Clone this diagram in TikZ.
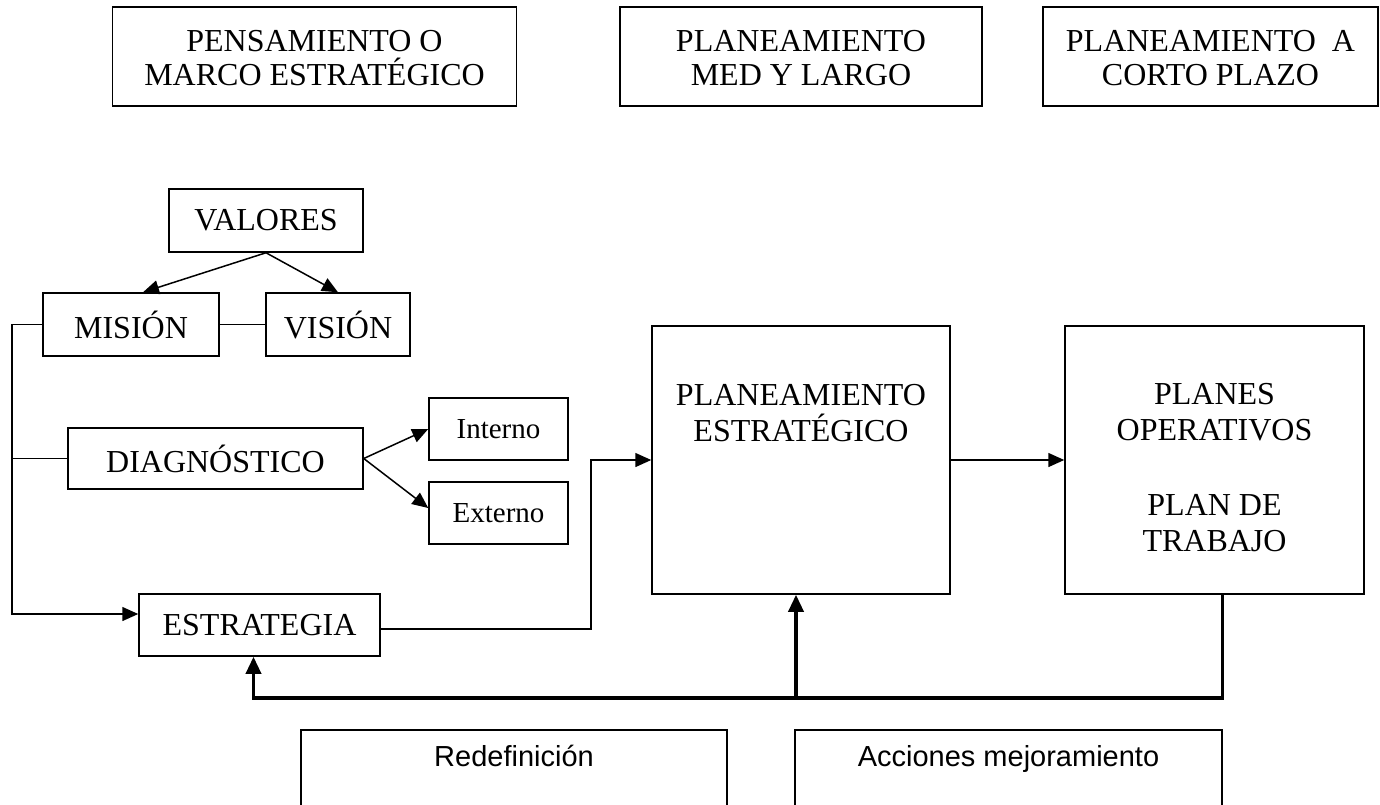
\documentclass[tikz,border=0pt]{standalone}
\usepackage{fontspec}
\setmainfont{Liberation Serif}
\newfontfamily\sansbox{Liberation Sans}
\usetikzlibrary{arrows.meta}

\begin{document}
\begin{tikzpicture}[x=0.5pt,y=-0.5pt,
  caja/.style={draw,line width=0.75pt,inner sep=0pt,align=center,font=\fontsize{16}{18}\selectfont},
  rotulo/.style={anchor=north,inner sep=0pt,align=center,yshift=-12pt,font=\fontsize{16}{17}\selectfont},
  letrero/.style={anchor=base,inner sep=0pt,yshift=-18.5pt,font=\sansbox\fontsize{14.5}{17}\selectfont},
  linea/.style={line width=0.75pt},
  flecha/.style={line width=0.75pt,-{Triangle[length=8pt,width=7pt]}},
  retorno/.style={line width=1.75pt,-{Triangle[length=8.5pt,width=7.5pt]}}]
\useasboundingbox (0,0) rectangle (1380,804);
\clip (0,0) rectangle (1380,804);

\node[caja,minimum width=202pt,minimum height=49.5pt,label={[rotulo]north:PENSAMIENTO O\\MARCO ESTRATÉGICO}] (marco) at (314.5,56.5) {};
\node[caja,minimum width=181pt,minimum height=49.5pt,label={[rotulo]north:PLANEAMIENTO\\MED Y LARGO}] (medio) at (801,56.5) {};
\node[caja,minimum width=167.5pt,minimum height=49.5pt,label={[rotulo]north:PLANEAMIENTO\ \ A\\CORTO PLAZO}] (corto) at (1210.5,56.5) {};

\node[caja,minimum width=97pt,minimum height=31.5pt] (valores) at (266,220.5) {VALORES};
\node[caja,minimum width=88pt,minimum height=31.5pt] (mision) at (131,324.5) {MISIÓN};
\node[caja,minimum width=72pt,minimum height=31.5pt] (vision) at (338,324.5) {VISIÓN};
\node[caja,minimum width=147.5pt,minimum height=30.5pt] (diagnostico) at (215.5,458.5) {DIAGNÓSTICO};
\node[caja,minimum width=69.5pt,minimum height=31pt,font=\fontsize{14.5}{17}\selectfont] (interno) at (498.5,429) {Interno};
\node[caja,minimum width=69.5pt,minimum height=31pt,font=\fontsize{14.5}{17}\selectfont] (externo) at (498.5,513) {Externo};
\node[caja,minimum width=120.5pt,minimum height=31pt] (estrategia) at (259.5,625) {ESTRATEGIA};

\node[caja,minimum width=149pt,minimum height=134pt,label={[rotulo,font=\fontsize{16}{18}\selectfont,yshift=-17.5pt]north:PLANEAMIENTO\\ESTRATÉGICO}] (plest) at (801,460) {};
\node[caja,minimum width=149.5pt,minimum height=134pt,label={[rotulo,font=\fontsize{16}{18}\selectfont,yshift=-17pt]north:PLANES\\OPERATIVOS\\[19.5pt]PLAN DE\\TRABAJO}] (planes) at (1214.5,460) {};

\node[caja,anchor=north,minimum width=213pt,minimum height=50pt,label={[letrero]north:Redefinición}] (redef) at (514,729) {};
\node[caja,anchor=north,minimum width=213.5pt,minimum height=50pt,label={[letrero]north:Acciones mejoramiento}] (acciones) at (1008.5,729) {};

\coordinate (lomo) at (12,0);
\coordinate (codo) at (591,0);
\coordinate (base) at (0,698);

\draw[flecha] (valores.south) -- ([xshift=6pt]mision.north);
\draw[flecha] (valores.south) -- (vision.north);
\draw[linea] (mision.east) -- (vision.west);
\draw[flecha] (mision.west) -- (mision.west -| lomo) -- ([yshift=5.5pt]estrategia.west -| lomo) -- ([yshift=5.5pt]estrategia.west);
\draw[linea] (diagnostico.west) -- (diagnostico.west -| lomo);
\draw[flecha] (diagnostico.east) -- (interno.west);
\draw[flecha] (diagnostico.east) -- ([yshift=2.5pt]externo.west);
\draw[flecha] ([yshift=-2pt]estrategia.east) -- ([yshift=-2pt]estrategia.east -| codo) -- (codo |- plest.west) -- (plest.west);
\draw[flecha] (plest.east) -- (planes.west);
\draw[retorno] ([xshift=4pt]planes.south) -- ([xshift=4pt]planes.south |- base) -- ([xshift=-3pt]estrategia.south |- base) -- ([xshift=-3pt]estrategia.south);
\draw[retorno] ([xshift=-2.5pt]plest.south |- base) -- ([xshift=-2.5pt]plest.south);
\end{tikzpicture}
\end{document}
